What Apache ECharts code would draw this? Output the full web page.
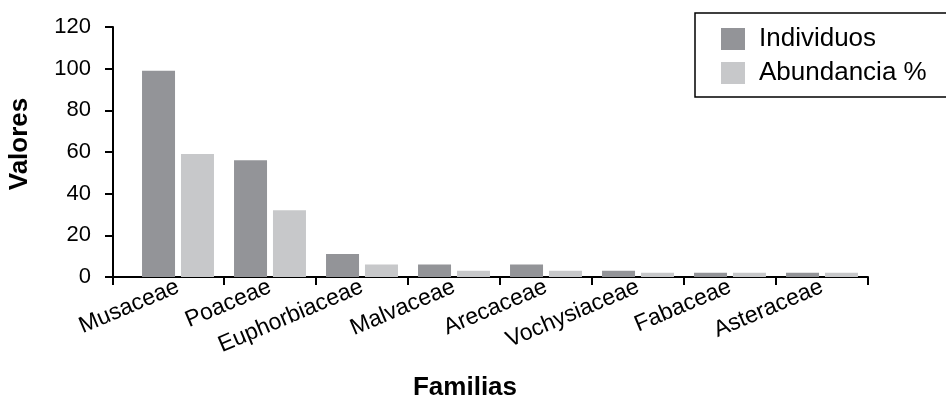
<!DOCTYPE html>
<html>
<head>
<meta charset="utf-8">
<script src="https://cdn.jsdelivr.net/npm/echarts@6/dist/echarts.min.js"></script>
<style>
  html, body { margin: 0; padding: 0; background: #ffffff; }
  #chart { width: 946px; height: 396px; }
</style>
</head>
<body>
<div id="chart"></div>
<script>
// Familias botánicas y sus valores
const familias = ['Musaceae', 'Poaceae', 'Euphorbiaceae', 'Malvaceae', 'Arecaceae', 'Vochysiaceae', 'Fabaceae', 'Asteraceae'];
const individuos = [99, 56, 11, 6, 6, 3, 2, 2];
const abundancia = [59, 32, 6, 3, 3, 2, 2, 2];
const yTicks = [0, 20, 40, 60, 80, 100, 120];

const FONT = '"Liberation Sans", Arial, Helvetica, sans-serif';
const GRID_LEFT = 132, GRID_RIGHT = 78, GRID_TOP = 27, GRID_BOTTOM = 119;
const Y_OFFSET = 19;
const AXIS_COLOR = '#000000';

const chart = echarts.init(document.getElementById('chart'), null, { renderer: 'canvas' });

const option = {
  animation: false,
  backgroundColor: '#ffffff',
  textStyle: { fontFamily: FONT },
  grid: { left: GRID_LEFT, right: GRID_RIGHT, top: GRID_TOP, bottom: GRID_BOTTOM,
          containLabel: false, outerBoundsMode: 'none' },
  legend: {
    orient: 'vertical',
    left: 695,
    top: 13,
    padding: [13, 80, 11, 26],
    itemWidth: 24,
    itemHeight: 22,
    itemGap: 8,
    borderColor: '#000000',
    borderWidth: 1.5,
    backgroundColor: '#ffffff',
    icon: 'rect',
    textStyle: { fontFamily: FONT, fontSize: 26, color: '#000000', padding: [0, 0, 0, 9], lineHeight: 22 },
    data: ['Individuos', 'Abundancia %']
  },
  xAxis: {
    type: 'category',
    data: familias,
    boundaryGap: true,
    name: 'Familias',
    nameLocation: 'middle',
    nameGap: 98,
    nameTextStyle: { fontFamily: FONT, fontSize: 26, fontWeight: 'bold', color: '#000000', padding: [0, 70, 0, 0] },
    axisLine: { lineStyle: { color: AXIS_COLOR, width: 2 } },
    axisTick: { show: true, length: 8, lineStyle: { color: AXIS_COLOR, width: 2 },
                interval: function (index) { return index !== 0; } },
    axisLabel: { rotate: 23, fontSize: 23, color: '#000000', fontFamily: FONT, margin: 9, interval: 0 },
    splitLine: { show: false }
  },
  yAxis: {
    type: 'value',
    min: yTicks[0],
    max: yTicks[yTicks.length - 1],
    interval: yTicks[1] - yTicks[0],
    offset: Y_OFFSET,
    name: 'Valores',
    nameLocation: 'middle',
    nameGap: 80,
    nameRotate: 90,
    nameTextStyle: { fontFamily: FONT, fontSize: 26, fontWeight: 'bold', color: '#000000', padding: [0, 0, 0, 16] },
    axisLine: { show: true, lineStyle: { color: AXIS_COLOR, width: 2 } },
    axisTick: { show: true, length: 8, inside: false, lineStyle: { color: AXIS_COLOR, width: 2 } },
    axisLabel: { fontSize: 22, color: '#000000', fontFamily: FONT, margin: 22 },
    splitLine: { show: false }
  },
  series: [
    {
      name: 'Individuos',
      type: 'bar',
      data: individuos,
      barWidth: 33,
      barGap: '18%',
      itemStyle: { color: '#939498' }
    },
    {
      name: 'Abundancia %',
      type: 'bar',
      data: abundancia,
      barWidth: 33,
      barGap: '18%',
      itemStyle: { color: '#c7c8ca' }
    }
  ]
};

chart.setOption(option);

// extend the category axis line back to the offset value axis, with its end tick
const axisY = chart.convertToPixel({ yAxisIndex: 0 }, 0);
chart.setOption({
  graphic: [
    { type: 'line', shape: { x1: GRID_LEFT - Y_OFFSET - 1, y1: axisY, x2: GRID_LEFT, y2: axisY },
      style: { stroke: AXIS_COLOR, lineWidth: 2 }, z: 10 },
    { type: 'line', shape: { x1: GRID_LEFT - Y_OFFSET, y1: axisY, x2: GRID_LEFT - Y_OFFSET, y2: axisY + 8 },
      style: { stroke: AXIS_COLOR, lineWidth: 2 }, z: 10 }
  ]
});
</script>
</body>
</html>
